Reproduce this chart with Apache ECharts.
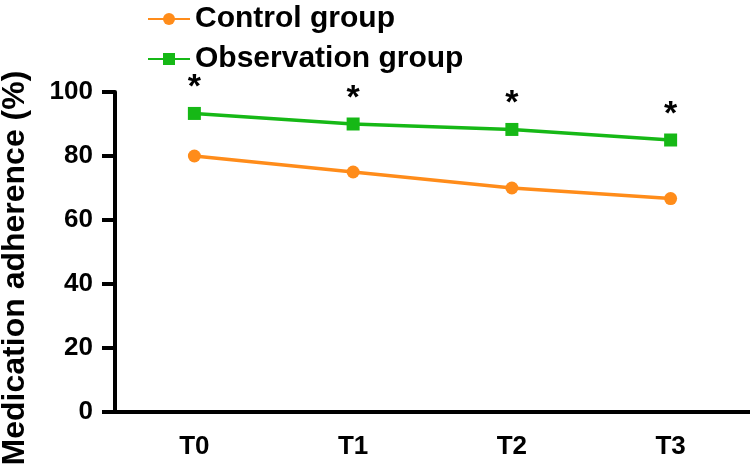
<!DOCTYPE html>
<html>
<head>
<meta charset="utf-8">
<script src="https://cdn.jsdelivr.net/npm/echarts@6/dist/echarts.min.js"></script>
<style>html,body{margin:0;padding:0;background:#fff}#c{width:750px;height:471px}</style>
</head>
<body>
<div id="c"></div>
<script>
var categories = ['T0', 'T1', 'T2', 'T3'];
var controlValues = [80, 75, 70, 66.7];
var observationValues = [93.3, 90, 88.3, 85];
var yTicks = [0, 20, 40, 60, 80, 100];
var seriesNames = ['Control group', 'Observation group'];
var yTitle = 'Medication adherence (%)';
var sigMark = '*';

var font = 'Liberation Sans, Arial, sans-serif';
var chart = echarts.init(document.getElementById('c'));
chart.setOption({
  animation: false,
  backgroundColor: '#fff',
  grid: {left: 115, right: 0, top: 92, bottom: 59, containLabel: false},
  legend: {
    orient: 'vertical', left: 142, top: -1,
    itemWidth: 42, itemHeight: 15, itemGap: 10,
    textStyle: {fontFamily: font, fontWeight: 'bold', fontSize: 30, color: '#000'},
    data: seriesNames
  },
  xAxis: {
    type: 'category', data: categories, boundaryGap: true,
    axisLine: {lineStyle: {color: '#000', width: 4}},
    axisTick: {alignWithLabel: true, length: 13, lineStyle: {color: '#000', width: 4}},
    axisLabel: {fontFamily: font, fontWeight: 'bold', fontSize: 26, color: '#000', margin: 22}
  },
  yAxis: {
    type: 'value', min: yTicks[0], max: yTicks[yTicks.length - 1], interval: 20,
    splitLine: {show: false},
    axisLine: {show: true, lineStyle: {color: '#000', width: 4}},
    axisTick: {show: true, length: 13, lineStyle: {color: '#000', width: 4}},
    axisLabel: {fontFamily: font, fontWeight: 'bold', fontSize: 26, color: '#000', margin: 22}
  },
  graphic: [{
    type: 'text', x: 15, y: 268, rotation: Math.PI / 2,
    style: {text: yTitle, fontFamily: font, fontWeight: 'bold', fontSize: 32, fill: '#000',
      textAlign: 'center', textVerticalAlign: 'middle'}
  }],
  series: [{
    name: seriesNames[0], type: 'line', data: controlValues,
    symbol: 'circle', symbolSize: 13,
    itemStyle: {color: '#ff8c1a'}, lineStyle: {color: '#ff8c1a', width: 3.5}
  }, {
    name: seriesNames[1], type: 'line', data: observationValues,
    symbol: 'rect', symbolSize: 13,
    itemStyle: {color: '#16b816'}, lineStyle: {color: '#16b816', width: 3.5},
    label: {show: true, position: 'top', distance: 2, formatter: sigMark,
      fontFamily: font, fontWeight: 'bold', fontSize: 34, color: '#000'}
  }]
});
</script>
</body>
</html>
